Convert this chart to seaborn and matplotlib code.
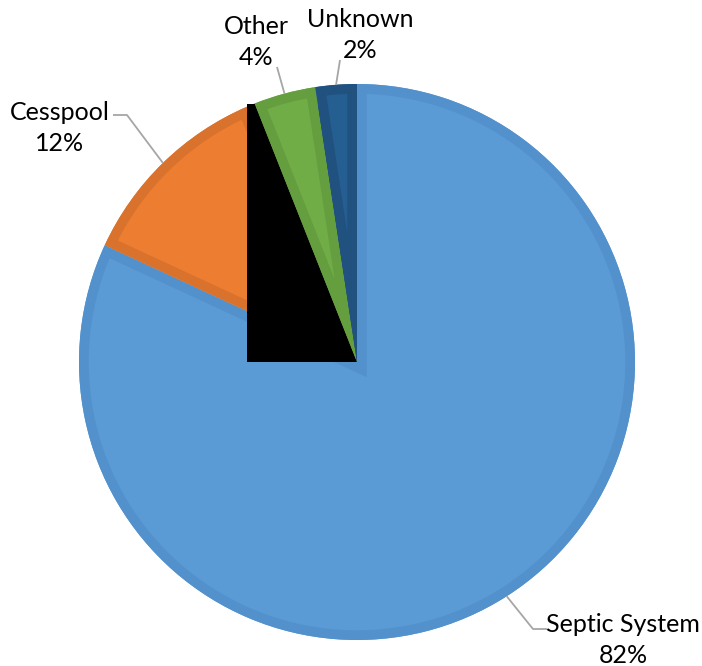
import numpy as np
import matplotlib.pyplot as plt
import seaborn as sns
from matplotlib.patches import Rectangle, Wedge

sns.set_theme(style="white")
plt.rcParams['font.family'] = ['Lato', 'DejaVu Sans']

# data
categories = ["Septic System", "Cesspool", "", "Other", "Unknown"]
shares = [81.9, 11.6, 0.5, 3.6, 2.4]
fill_colors = ["#5B9BD5", "#ED7D31", "#A5A5A5", "#70AD47", "#255E91"]
edge_colors = ["#5291CC", "#D8722C", "#979797", "#659E3F", "#20517F"]

W, H = 702, 666
CX, CY, R = 357, 362, 278  # pie centre and radius in pixels


def px(x, y):
    # pixel position -> data coords (pie radius = 1)
    return (x - CX) / R, (CY - y) / R


fig = plt.figure(figsize=(W / 100, H / 100), dpi=100)
ax = fig.add_axes([0, 0, 1, 1])

wedges, _ = ax.pie(shares, startangle=90, counterclock=False, radius=1,
                   colors=fill_colors, wedgeprops=dict(linewidth=0))
for i, (w, ec) in enumerate(zip(wedges, edge_colors)):
    w.set_zorder(1 + i * 0.1)
    # inner border: a thick outline clipped to the slice itself
    border = Wedge(w.center, w.r, w.theta1, w.theta2, facecolor="none",
                   edgecolor=ec, linewidth=14, zorder=1.05 + i * 0.1)
    ax.add_patch(border)
    border.set_clip_path(w)

# black box left behind by the tiny grey slice
bb = wedges[2].get_path().get_extents()
ax.add_patch(Rectangle((bb.x0, bb.y0), bb.width, bb.height,
                       facecolor="black", edgecolor="none", zorder=1.27))

# label placement (text centre + leader start, in pixels)
layout = {
    "Septic System": dict(text=(623, 640), lead=[(547, 629), (533, 629)]),
    "Cesspool": dict(text=(60, 128), lead=[(113, 115), (127, 115)]),
    "Other": dict(text=(256, 42), lead=[(277, 67)]),
    "Unknown": dict(text=(360, 35), lead=[(340, 60)]),
}

for w, name, s in zip(wedges, categories, shares):
    if name not in layout:
        continue
    spec = layout[name]
    ang = np.deg2rad((w.theta1 + w.theta2) / 2)
    rim = (np.cos(ang), np.sin(ang))
    pts = [px(*p) for p in spec["lead"]] + [rim]
    xs, ys = zip(*pts)
    ax.plot(xs, ys, color="#A6A6A6", lw=1.3, zorder=3, solid_capstyle="butt")
    tx, ty = px(*spec["text"])
    ax.text(tx, ty, f"{name}\n{round(s)}%", ha="center", va="center",
            fontsize=18, linespacing=1.4, color="black", zorder=4)

x0, _ = px(0, 0)
x1, _ = px(W, 0)
_, y0 = px(0, H)
_, y1 = px(0, 0)
ax.set_xlim(x0, x1)
ax.set_ylim(y0, y1)
ax.set_aspect("auto")
ax.axis("off")

fig.savefig("out.png", dpi=100)
